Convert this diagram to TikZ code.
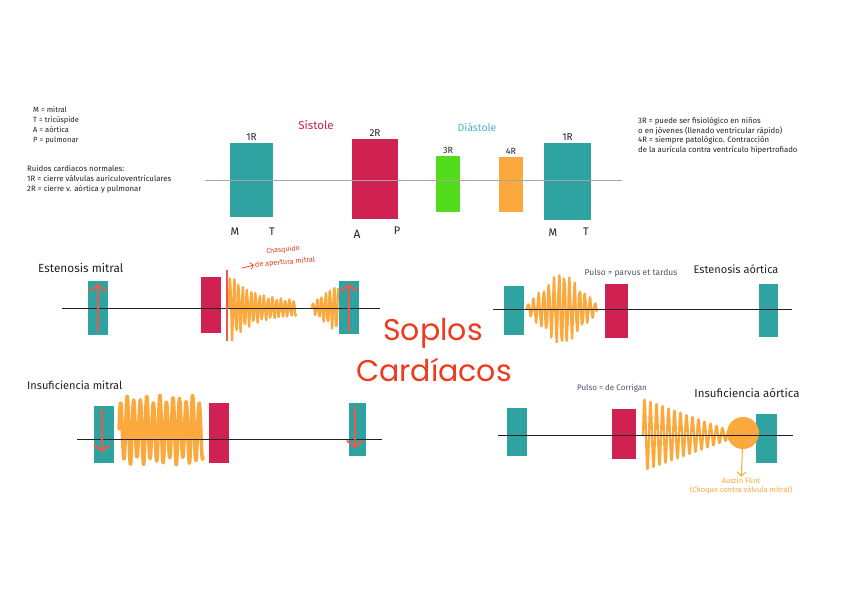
\documentclass[tikz,border=0pt]{standalone}
\usepackage{fontspec}
\setmainfont{Fira Sans}
\newfontfamily\titlefont{Poppins}
\usetikzlibrary{arrows.meta,positioning,calc}
\definecolor{tealbox}{HTML}{2FA3A2}
\definecolor{crim}{HTML}{CF2152}
\definecolor{lime}{HTML}{52DC1B}
\definecolor{amber}{HTML}{FBA93C}
\definecolor{coral}{HTML}{EE5A4A}
\definecolor{scarlet}{HTML}{EE3A1E}
\definecolor{slate}{HTML}{4A5568}
\definecolor{sky}{HTML}{45B8C4}
\definecolor{ink}{HTML}{222222}

\begin{document}
\begin{tikzpicture}[x=1pt,y=-1pt,
   bx/.style n args={3}{fill=#1,inner sep=0pt,minimum width=#2,minimum height=#3},
   ln/.style={draw=ink,line width=0.8pt},
   osc/.style={draw=amber,line width=2.2pt,line join=round},
   up/.style={draw=coral,line width=2pt,line cap=round,-{Straight Barb[length=6pt,width=16pt]}},
   lbl/.style={font=\fontsize{10}{12}\selectfont,text=ink,inner sep=1pt},
   sm/.style={font=\fontsize{7.8}{10.3}\selectfont,text=ink,align=left,inner sep=0pt}]
  \fill[white] (0,0) rectangle (848,599);
  \useasboundingbox (0,0) rectangle (848,599);

  % legend
  \node[sm,anchor=north west,font=\fontsize{7.5}{10}\selectfont] (leg) at (33,106) {M = mitral\\ T = tricúspide\\ A = aórtica\\ P = pulmonar};
  \node[sm,anchor=north west] (rn) at (27,165) {Ruidos cardiacos normales:\\ 1R = cierre válvulas auriculoventriculares\\ 2R = cierre v. aórtica y pulmonar};
  \node[sm,anchor=north west,font=\fontsize{7.8}{9.6}\selectfont] (r34) at (638,117) {3R = puede ser fisiológico en niños\\ o en jóvenes (llenado ventricular rápido)\\ 4R = siempre patológico. Contracción\\ de la aurícula contra ventrículo hipertrofiado};

  % ciclo normal
  \node[bx={tealbox}{43pt}{74pt}] (r1) at (251.5,180) {};
  \node[bx={crim}{46pt}{80pt}] (r2) at (375,179) {};
  \node[bx={lime}{24pt}{56pt}] (r3) at (448,184) {};
  \node[bx={amber}{24pt}{55pt}] (r4) at (511,184.5) {};
  \node[bx={tealbox}{47pt}{77pt}] (r5) at (567.5,181.5) {};
  \draw[draw=gray!70,line width=0.8pt] (205,180) -- (622,180);
  \node[lbl,above=1pt of r1] {1R};
  \node[lbl,above=1pt of r2] {2R};
  \node[lbl,above=1pt of r3,font=\fontsize{9}{11}\selectfont] {3R};
  \node[lbl,above=1pt of r4,font=\fontsize{9}{11}\selectfont] {4R};
  \node[lbl,above=1pt of r5] {1R};
  \node[lbl,text=crim,font=\fontsize{11.5}{13}\selectfont] (sis) at (316,125) {Sístole};
  \node[lbl,text=sky,font=\fontsize{10.5}{12}\selectfont] (dia) at (477,127) {Diástole};
  \node[lbl,font=\fontsize{11}{13}\selectfont] (m1) at (235,232) {M};
  \node[lbl,font=\fontsize{11}{13}\selectfont] (t1) at (272,232) {T};
  \node[lbl,font=\fontsize{12}{13}\selectfont] (a2) at (357,234) {A};
  \node[lbl,font=\fontsize{11}{13}\selectfont] (p2) at (397,231) {P};
  \node[lbl,font=\fontsize{11}{13}\selectfont] (m5) at (553,233) {M};
  \node[lbl,font=\fontsize{11}{13}\selectfont] (t5) at (586,232) {T};

  % estenosis mitral
  \node[lbl,anchor=west,font=\fontsize{11.8}{13}\selectfont] (em) at (37,268) {Estenosis mitral};
  \node[bx={tealbox}{20pt}{54pt}] (em1) at (98,308) {};
  \node[bx={crim}{20pt}{56pt}] (em2) at (211,305) {};
  \node[bx={tealbox}{20pt}{53pt}] (em3) at (349,307.5) {};
  \draw[osc] plot[domain=229:296,samples=240] (\x,{308-(6+26*exp(-(\x-229)/22))*(sin((\x-229)*85)+0.15*sin((\x-229)*210))});
  \draw[osc] plot[domain=312:338,samples=100] (\x,{308-(4+(\x-312)*0.7)*(sin((\x-312)*85)+0.15*sin((\x-312)*210))});
  \draw[ln] (62,308) -- (380,308);
  \draw[draw=coral,line width=2.5pt] (227,270) -- (227,341);
  \draw[up] (98,331) -- (98,284);
  \draw[up] (349,331) -- (349,284);
  \node[font=\fontsize{7}{8}\selectfont,text=scarlet,rotate=5,inner sep=0pt] (chq) at (283,250) {Chasquido};
  \node[font=\fontsize{7.3}{8}\selectfont,text=scarlet,rotate=5,inner sep=0pt] (chq2) at (285,262.5) {de apertura mitral};
  \draw[draw=scarlet,line width=0.7pt,-{Straight Barb[length=3pt,width=7pt]}] ($(chq2.west)+(-13,3)$) -- ($(chq2.west)+(-1,0)$);

  % estenosis aortica
  \node[lbl,font=\fontsize{11}{13}\selectfont] (ea) at (736,269) {Estenosis aórtica};
  \node[font=\fontsize{8.5}{10}\selectfont,text=slate] (pv) at (631,273) {Pulso = parvus et tardus};
  \node[bx={tealbox}{20pt}{49pt}] (ea1) at (514,310.5) {};
  \node[bx={crim}{23pt}{54pt}] (ea2) at (616.5,311) {};
  \node[bx={tealbox}{19pt}{53pt}] (ea3) at (768.5,310.5) {};
  \draw[osc] plot[domain=527:597,samples=240] (\x,{309-(4+31*max(0,1-abs(\x-562)/35))*(sin((\x-527)*70)+0.15*sin((\x-527)*190))});
  \draw[ln] (493,309) -- (792,309);

  % titulo
  \node[font=\titlefont\fontsize{30}{34}\selectfont,text=scarlet] (ti1) at (433,333) {Soplos};
  \node[font=\titlefont\fontsize{30}{34}\selectfont,text=scarlet] (ti2) at (434,370) {Cardíacos};

  % insuficiencia mitral
  \node[lbl,anchor=west,font=\fontsize{11}{13}\selectfont] (im) at (26,385) {Insuficiencia mitral};
  \node[bx={tealbox}{20pt}{57pt}] (im1) at (104,434.5) {};
  \node[bx={crim}{20pt}{60pt}] (im2) at (219,433) {};
  \node[bx={tealbox}{17pt}{53pt}] (im3) at (357.5,429.5) {};
  \draw[osc,line width=3.5pt] plot[domain=119:203,samples=300] (\x,{430-(31+4*sin(\x*23))*sin((\x-119)*55)});
  \draw[ln] (77,439) -- (382,439);
  \draw[up] (102,409) -- (102,452);
  \draw[up] (355,407) -- (355,448);

  % insuficiencia aortica
  \node[lbl,font=\fontsize{11.5}{13}\selectfont] (ia) at (747,393) {Insuficiencia aórtica};
  \node[font=\fontsize{8}{10}\selectfont,text=slate] (co) at (612,388) {Pulso = de Corrigan};
  \node[bx={tealbox}{20pt}{48pt}] (ia1) at (517,432) {};
  \node[bx={crim}{24pt}{50pt}] (ia2) at (624,434) {};
  \node[bx={tealbox}{21pt}{49pt}] (ia3) at (766.5,438.5) {};
  \draw[osc] plot[domain=643:728,samples=280] (\x,{435-(5+31*(728-\x)/85)*sin((\x-643)*60)});
  \node[circle,fill=amber,minimum size=32pt,inner sep=0pt] (af) at (743,433) {};
  \draw[ln] (498,435) -- (793,435);
  \node[font=\fontsize{7.5}{9}\selectfont,text=amber,align=center,inner sep=1pt] (flint) at (741,486) {Austin Flint\\ (Choque contra válvula mitral)};
  \draw[draw=amber,line width=1pt,-{Straight Barb[length=4pt,width=9pt]}] (af) -- (flint);
\end{tikzpicture}
\end{document}
